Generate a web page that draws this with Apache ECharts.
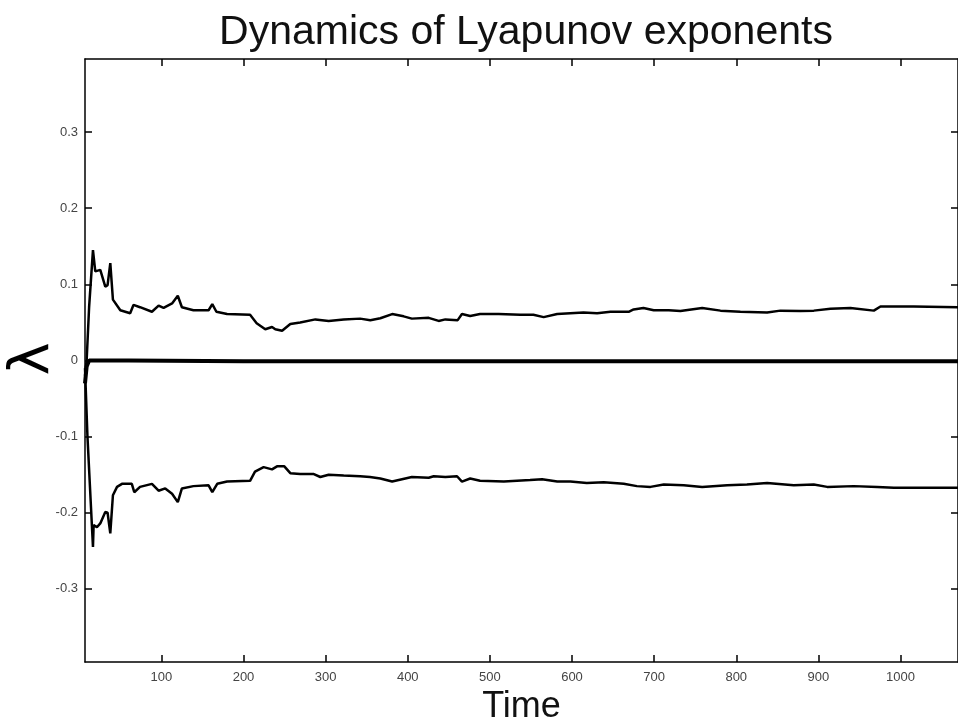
<!DOCTYPE html>
<html>
<head>
<meta charset="utf-8">
<script src="https://cdn.jsdelivr.net/npm/echarts@6/dist/echarts.min.js"></script>
<style>
  html, body { margin: 0; padding: 0; background: #fff; }
  #chart { width: 958px; height: 726px; }
</style>
</head>
<body>
<div id="chart"></div>
<script>
// Largest exponent λ1
const lambda1Time = [7, 9, 12, 16.7, 19.5, 25.6, 31.7, 34.5, 37.8, 41, 50, 62, 66, 74, 88.5, 96.6, 102.7, 113, 120, 125, 139, 157.5, 162, 167, 180, 208, 216, 226.5, 234.7, 238.7, 247, 257, 269, 287.5, 303.7, 322, 342, 354.4, 366.6, 381, 395, 405, 425.5, 437.6, 445.8, 460.8, 466, 476, 488, 510.7, 537, 553, 565.5, 582, 598, 614, 630.6, 646.8, 669, 675, 687, 699.5, 717.8, 732, 758.5, 780.8, 805, 837.6, 853.8, 878, 894.4, 914.7, 939, 967.5, 975.6, 1016, 1071];
const lambda1 = [-0.02, 0.0, 0.07, 0.145, 0.117, 0.119, 0.097, 0.099, 0.128, 0.080, 0.066, 0.062, 0.073, 0.070, 0.064, 0.072, 0.069, 0.075, 0.085, 0.070, 0.066, 0.066, 0.074, 0.064, 0.061, 0.060, 0.049, 0.041, 0.044, 0.041, 0.039, 0.048, 0.050, 0.054, 0.052, 0.054, 0.055, 0.053, 0.0555, 0.061, 0.058, 0.055, 0.056, 0.052, 0.054, 0.053, 0.061, 0.0585, 0.061, 0.061, 0.060, 0.060, 0.057, 0.061, 0.062, 0.063, 0.062, 0.064, 0.064, 0.067, 0.069, 0.066, 0.066, 0.065, 0.069, 0.0655, 0.064, 0.063, 0.0655, 0.065, 0.0655, 0.068, 0.069, 0.0655, 0.071, 0.071, 0.070];

// Zero exponent λ2
const lambda2Time = [7, 9, 12, 60, 200, 500, 800, 1071];
const lambda2 = [-0.03, -0.008, 0.0, 0.0, -0.001, -0.001, -0.001, -0.001];

// Negative exponent λ3
const lambda3Time = [7, 10, 16.7, 17.5, 21.5, 25.6, 31.7, 34.5, 37.8, 41, 46, 52, 64, 67, 74, 88.5, 96.6, 104.7, 113, 120, 125, 139, 157.5, 162, 168, 180, 208, 214, 224.5, 234.7, 240.8, 249.7, 257, 269, 285, 293.5, 303.7, 322, 342, 354, 366.6, 381, 393, 405, 425.5, 431.6, 445.8, 460, 466, 476, 488, 517, 549, 563.6, 582, 598, 618, 638.6, 663, 679, 695.5, 711.7, 736, 758.5, 789, 813, 837.6, 870, 894.4, 910.7, 943, 971.6, 992, 1032.5, 1071];
const lambda3 = [-0.01, -0.10, -0.245, -0.216, -0.219, -0.214, -0.199, -0.200, -0.227, -0.177, -0.166, -0.162, -0.162, -0.173, -0.166, -0.162, -0.171, -0.168, -0.175, -0.186, -0.168, -0.165, -0.164, -0.173, -0.162, -0.159, -0.158, -0.146, -0.140, -0.143, -0.139, -0.139, -0.148, -0.149, -0.149, -0.153, -0.150, -0.151, -0.152, -0.153, -0.155, -0.159, -0.156, -0.153, -0.154, -0.152, -0.153, -0.152, -0.159, -0.155, -0.158, -0.159, -0.157, -0.156, -0.159, -0.159, -0.161, -0.160, -0.162, -0.165, -0.166, -0.163, -0.164, -0.166, -0.164, -0.163, -0.161, -0.164, -0.163, -0.166, -0.165, -0.166, -0.167, -0.167, -0.167];

// Axis ticks
const timeTicks = [100, 200, 300, 400, 500, 600, 700, 800, 900, 1000];
const lambdaTicks = [-0.3, -0.2, -0.1, 0, 0.1, 0.2, 0.3];

const pair = (t, v) => t.map((x, i) => [x, v[i]]);

const xMin = 7, xMax = 1070;
const yMin = -0.396, yMax = 0.396;

const frameLine = { show: true, onZero: false, lineStyle: { color: '#000', width: 1.5 } };
const tickStyle = { color: '#000', width: 1.5 };

const chart = echarts.init(document.getElementById('chart'), null, { renderer: 'canvas' });
chart.setOption({
  backgroundColor: '#fff',
  animation: false,
  title: {
    text: 'Dynamics of Lyapunov exponents',
    left: 521, top: 7, textAlign: 'center',
    textStyle: { fontFamily: 'Liberation Sans', fontSize: 41, fontWeight: 'normal', color: '#111' }
  },
  // y-axis symbol, turned to read bottom-to-top
  graphic: [{
    type: 'text', x: 33, y: 359, rotation: Math.PI / 2,
    style: {
      text: 'λ', fill: '#000', align: 'center', verticalAlign: 'middle',
      font: '56px "DejaVu Sans"'
    }
  }],
  grid: { left: 85, right: 0, top: 59, bottom: 64, containLabel: false, outerBoundsMode: 'none' },
  xAxis: [
    {
      type: 'value', min: xMin, max: xMax, position: 'bottom',
      name: 'Time', nameLocation: 'middle', nameGap: 27,
      nameTextStyle: { fontFamily: 'Liberation Sans', fontSize: 36, color: '#111' },
      axisLine: frameLine,
      axisTick: { show: true, inside: true, length: 7, lineStyle: tickStyle, customValues: timeTicks },
      axisLabel: {
        show: true, customValues: timeTicks, margin: 9,
        fontFamily: 'Liberation Sans', fontSize: 13, color: '#444',
        formatter: v => String(v)
      },
      splitLine: { show: false }
    },
    {
      type: 'value', min: xMin, max: xMax, position: 'top',
      axisLine: frameLine,
      axisTick: { show: true, inside: true, length: 7, lineStyle: tickStyle, customValues: timeTicks },
      axisLabel: { show: false },
      splitLine: { show: false }
    }
  ],
  yAxis: [
    {
      type: 'value', min: yMin, max: yMax, position: 'left',
      axisLine: frameLine,
      axisTick: { show: true, inside: true, length: 7, lineStyle: tickStyle, customValues: lambdaTicks },
      axisLabel: {
        show: true, customValues: lambdaTicks, margin: 7,
        fontFamily: 'Liberation Sans', fontSize: 13, color: '#444',
        formatter: v => String(Math.round(v * 10) / 10)
      },
      splitLine: { show: false }
    },
    {
      type: 'value', min: yMin, max: yMax, position: 'right',
      axisLine: frameLine,
      axisTick: { show: true, inside: true, length: 7, lineStyle: tickStyle, customValues: lambdaTicks },
      axisLabel: { show: false },
      splitLine: { show: false }
    }
  ],
  series: [
    {
      name: 'λ1', type: 'line', data: pair(lambda1Time, lambda1),
      showSymbol: false, lineStyle: { color: '#000', width: 2.5 }, z: 3
    },
    {
      name: 'λ2', type: 'line', data: pair(lambda2Time, lambda2),
      showSymbol: false, lineStyle: { color: '#000', width: 4 }, z: 3
    },
    {
      name: 'λ3', type: 'line', data: pair(lambda3Time, lambda3),
      showSymbol: false, lineStyle: { color: '#000', width: 2.5 }, z: 3
    }
  ]
});
</script>
</body>
</html>
